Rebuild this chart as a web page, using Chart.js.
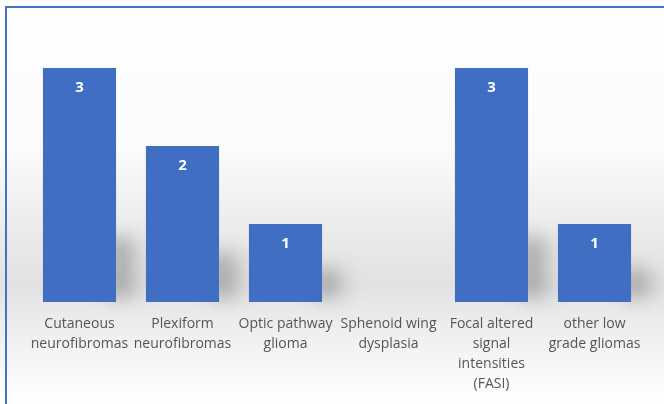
<!DOCTYPE html>
<html lang="en">
<head>
	<meta charset="UTF-8">
	<title>NF1 findings</title>
	<script src="https://cdn.jsdelivr.net/npm/chart.js@4.4.1/dist/chart.umd.min.js"></script>
	<style>
		html, body { margin: 0; padding: 0; }
		body {
			width: 664px; height: 404px; overflow: hidden; position: relative;
			background: linear-gradient(to bottom, #ffffff 0px, #fbfbfb 150px, #e9e9e9 240px, #e2e2e2 285px, #ececec 320px, #f8f8f8 370px, #ffffff 404px);
		}
		#myChart { position: absolute; left: 0; top: 0; }
		.frame {
			position: absolute; left: 5px; top: 6px; width: 700px; height: 450px;
			border: 2px solid #4472c4; pointer-events: none;
		}
	</style>
</head>
<body>
	<canvas id="myChart" width="664" height="404"></canvas>
	<div class="frame"></div>
<script>
	// categories (multi-line tick labels) and counts
	var categories = [
		["Cutaneous", "neurofibromas"],
		["Plexiform", "neurofibromas"],
		["Optic pathway", "glioma"],
		["Sphenoid wing", "dysplasia"],
		["Focal altered", "signal", "intensities", "(FASI)"],
		["other low", "grade gliomas"]
	];
	var counts = [3, 2, 1, 0, 3, 1];

	// soft shadow falling to the right of each bar, near its foot
	var barShadow = {
		id: "barShadow",
		beforeDatasetsDraw: function(chart){
			var ctx = chart.ctx;
			var meta = chart.getDatasetMeta(0);
			ctx.save();
			ctx.filter = "blur(9px)";
			meta.data.forEach(function(bar, i){
				if(!counts[i]) return;
				var h = bar.base - bar.y;
				var right = bar.x + bar.width / 2;
				var top = bar.base - (h * 0.2 + 18);
				var g = ctx.createLinearGradient(right, 0, right + 30, 0);
				g.addColorStop(0, "rgba(50,50,50,0.4)");
				g.addColorStop(1, "rgba(50,50,50,0)");
				ctx.fillStyle = g;
				ctx.fillRect(right - 6, top, 36, bar.base - top - 4);
			});
			ctx.restore();
		}
	};

	// white value labels inside the top of each bar
	var valueLabels = {
		id: "valueLabels",
		afterDatasetsDraw: function(chart){
			var ctx = chart.ctx;
			var meta = chart.getDatasetMeta(0);
			ctx.save();
			ctx.font = "bold 15px 'Open Sans'";
			ctx.fillStyle = "#ffffff";
			ctx.textAlign = "center";
			ctx.textBaseline = "middle";
			meta.data.forEach(function(bar, i){
				if(!counts[i]) return;
				ctx.fillText(String(counts[i]), bar.x, bar.y + 20);
			});
			ctx.restore();
		}
	};

	var ctx = document.getElementById("myChart");
	var myChart = new Chart(ctx, {
		type: "bar",
		data: {
			labels: categories,
			datasets: [{
				data: counts,
				backgroundColor: "#3f6ec2",
				borderWidth: 0,
				barPercentage: 1,
				categoryPercentage: 0.71
			}]
		},
		options: {
			responsive: false,
			animation: false,
			layout: { padding: { left: 28, right: 18, top: 68, bottom: 0 } },
			plugins: { legend: { display: false }, tooltip: { enabled: false } },
			scales: {
				y: { display: false, min: 0, max: 3 },
				x: {
					grid: { display: false, drawTicks: false },
					border: { display: false },
					ticks: {
						autoSkip: false, maxRotation: 0, padding: 12,
						color: "#555555",
						font: { family: "'Open Sans'", size: 14, lineHeight: 1.43 }
					},
					afterFit: function(scale){ scale.height = 102; }
				}
			}
		},
		plugins: [barShadow, valueLabels]
	});
</script>
</body>
</html>
